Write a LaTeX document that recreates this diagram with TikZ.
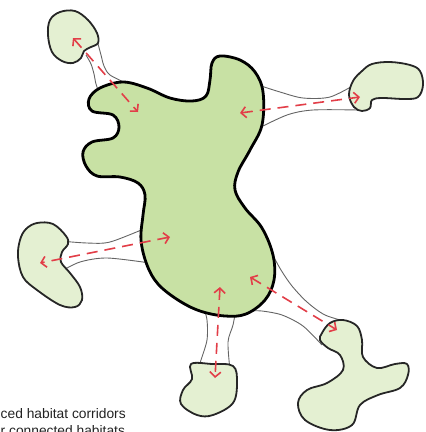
\documentclass[tikz,border=0pt]{standalone}
\usepackage{fontspec}
\setmainfont{Liberation Sans}
\usetikzlibrary{arrows.meta}
\definecolor{cgreen}{RGB}{200,225,164}
\definecolor{sgreen}{RGB}{228,240,210}
\definecolor{fred}{RGB}{226,62,72}
\definecolor{edgegray}{RGB}{100,100,100}
\definecolor{txt}{RGB}{34,34,34}
\tikzset{
  central/.style={fill=cgreen, draw=black, line width=2.8pt, line join=round},
  sat/.style={fill=sgreen, draw=black!85, line width=1.8pt, line join=round},
  corr/.style={draw=edgegray, line width=0.9pt},
  flow/.style={draw=fred, line width=1.6pt, dash pattern=on 11pt off 7pt,
    {Straight Barb[length=5pt,width=11pt]}-{Straight Barb[length=5pt,width=11pt]}},
  caption/.style={anchor=base west, inner sep=0pt, font=\fontsize{13.8}{16}\selectfont, text=txt}
}
\begin{document}
\begin{tikzpicture}[x=1pt,y=-1pt]
\useasboundingbox (0,0) rectangle (426,432);
% corridor edges
\draw[corr] plot[smooth] coordinates {(97,40) (101,55) (104,66) (110,75) (128,84)};
\draw[corr] plot[smooth] coordinates {(86,55) (91,64) (94,74) (96,84) (100,95)};
\draw[corr] plot[smooth] coordinates {(255,84) (280,92) (303,98) (330,97) (356,84)};
\draw[corr] plot[smooth] coordinates {(255,130) (287,115) (313,110) (358,110)};
\draw[corr] plot[smooth] coordinates {(60,241) (87,243) (110,242) (146,228)};
\draw[corr] plot[smooth] coordinates {(60,272) (80,262) (107,258) (150,263)};
\draw[corr] plot[smooth] coordinates {(203,305) (207,320) (207,340) (201,360) (198,370)};
\draw[corr] plot[smooth] coordinates {(236,308) (233,325) (228,342) (230,370)};
\draw[corr] plot[smooth] coordinates {(270,250) (281,270) (292,286) (307,302) (325,315) (348,322)};
\draw[corr] plot[smooth] coordinates {(250,311) (262,311) (282,315) (303,326) (322,345)};
% satellites
\draw[sat] plot[smooth cycle, tension=0.6] coordinates {(60,12) (75,11) (88,20) (97,33) (98,43) (91,47) (84,51) (81,58) (73,63) (62,61) (52,52) (48,35) (50,20)};
\draw[sat] plot[smooth cycle, tension=0.6] coordinates {(353,81) (362,71) (372,64) (390,62) (410,65) (420,71) (423,85) (418,97) (405,99) (382,98) (372,100) (370,108) (362,111) (354,107) (349,95)};
\draw[sat] plot[smooth cycle, tension=0.6] coordinates {(37,223) (53,224) (66,236) (68,244) (62,252) (61,262) (70,273) (80,287) (82,300) (75,307) (60,305) (37,290) (23,277) (18,257) (20,240) (26,229)};
\draw[sat] plot[smooth cycle, tension=0.6] coordinates {(191,364) (212,364) (233,366) (237,382) (233,403) (213,415) (197,415) (181,404) (183,390) (192,379)};
\draw[sat] plot[smooth cycle, tension=0.6] coordinates {(322,333) (330,323) (343,320) (357,326) (362,340) (363,357) (377,368) (395,364) (407,364) (408,375) (400,388) (378,395) (360,405) (352,425) (330,430) (305,420) (298,403) (307,390) (327,383) (343,370) (340,355) (328,348) (320,340)};
% central habitat
\draw[central] plot[smooth cycle, tension=0.6] coordinates {(220,56) (240,60) (255,72) (263,92) (262,125) (250,150) (238,172) (235,190) (245,208) (262,228) (273,255) (274,280) (265,300) (246,314) (225,316) (200,311) (178,300) (158,284) (147,265) (141,240) (143,215) (145,195) (138,183) (120,177) (97,176) (86,166) (83,152) (92,142) (113,138) (119,127) (113,115) (92,111) (89,99) (100,88) (123,82) (147,88) (170,98) (192,101) (206,96) (210,80) (212,63)};
% movement arrows
\coordinate (a1) at (73,38);  \coordinate (b1) at (138,112);
\coordinate (a2) at (240,113); \coordinate (b2) at (360,97);
\coordinate (a3) at (170,237); \coordinate (b3) at (40,263);
\coordinate (a4) at (220,287); \coordinate (b4) at (215,378);
\coordinate (a5) at (250,277); \coordinate (b5) at (337,330);
\draw[flow] (a1) -- (b1);
\draw[flow] (a2) -- (b2);
\draw[flow] (a3) -- (b3);
\draw[flow] (a4) -- (b4);
\draw[flow] (a5) -- (b5);
% caption (cut off by the frame, as in the reference)
\node[caption] (cap1) at (0.5,418) {ced habitat corridors};
\node[caption] (cap2) at (0.5,435) {r connected habitats};
\end{tikzpicture}
\end{document}
